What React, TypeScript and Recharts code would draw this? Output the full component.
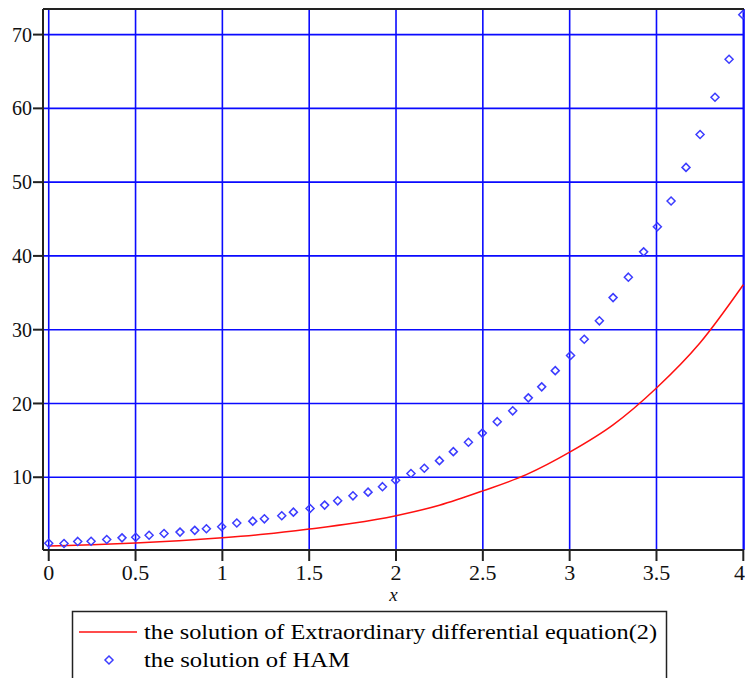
import React from "react";
import {
  ComposedChart,
  Line,
  Scatter,
  XAxis,
  YAxis,
  CartesianGrid,
  ReferenceLine,
} from "recharts";

// exact ODE solution, sampled along the curve
const exactX = [0, 0.25, 0.5, 0.75, 1, 1.25, 1.5, 1.75, 2, 2.25, 2.5, 2.75, 3, 3.25, 3.5, 3.75, 4];
const exactY = [0.68, 0.86, 1.1, 1.4, 1.8, 2.3, 2.98, 3.75, 4.79, 6.2, 8.15, 10.35, 13.4, 17.1, 22.1, 28.2, 36.1];

// HAM approximation points
const hamX = [
  0, 0.088, 0.167, 0.244, 0.334, 0.422, 0.501, 0.578, 0.664, 0.756,
  0.841, 0.908, 0.996, 1.083, 1.175, 1.242, 1.342, 1.409, 1.505, 1.589,
  1.664, 1.752, 1.839, 1.922, 1.998, 2.086, 2.163, 2.25, 2.33, 2.417,
  2.497, 2.583, 2.672, 2.762, 2.839, 2.917, 3.005, 3.084, 3.171, 3.25,
  3.338, 3.426, 3.505, 3.584, 3.67, 3.751, 3.837, 3.918, 3.997,
];
const hamY = [
  1.05, 1.02, 1.3, 1.33, 1.56, 1.78, 1.86, 2.14, 2.38, 2.56,
  2.8, 3.02, 3.29, 3.8, 4.05, 4.36, 4.77, 5.27, 5.77, 6.22,
  6.8, 7.48, 7.98, 8.72, 9.6, 10.5, 11.22, 12.25, 13.47, 14.75,
  15.98, 17.53, 19.0, 20.76, 22.25, 24.45, 26.5, 28.7, 31.2, 34.35,
  37.12, 40.55, 43.95, 47.45, 52.0, 56.45, 61.5, 66.65, 72.7,
];

const xTicks = [0, 0.5, 1, 1.5, 2, 2.5, 3, 3.5, 4];
const yTicks = [10, 20, 30, 40, 50, 60, 70];

const legendLabels = [
  "the solution of Extraordinary differential equation(2)",
  "the solution of HAM",
];

const X_DOMAIN: [number, number] = [-0.033, 4.004];
const Y_DOMAIN: [number, number] = [0.136, 73.47];

const SERIF =
  "'Liberation Serif', 'Times New Roman', Times, 'Nimbus Roman', 'Noto Serif', 'DejaVu Serif', FreeSerif, serif";
const GRID_BLUE = "#0a0aff";
const RED = "#ff1010";
const HAM_BLUE = "#3c3cff";

const exactData = exactX.map((x, i) => ({ x, y: exactY[i] }));
const hamData = hamX.map((x, i) => ({ x, y: hamY[i] }));

function Diamond(props: any) {
  const { cx, cy } = props;
  if (cx == null || cy == null) return null;
  const r = 4;
  return (
    <path
      d={`M${cx},${cy - r} L${cx + r},${cy} L${cx},${cy + r} L${cx - r},${cy} Z`}
      fill="none"
      stroke={HAM_BLUE}
      strokeWidth={1.5}
    />
  );
}

function Legend() {
  return (
    <svg
      width={745}
      height={70}
      style={{ position: "absolute", left: 0, top: 608 }}
    >
      <rect x={72.5} y={3.5} width={594} height={90} fill="#fff" stroke="#222" strokeWidth={1.5} />
      <line x1={79} x2={137} y1={24} y2={24} stroke={RED} strokeWidth={1.5} />
      <path d="M109,48 L113,52 L109,56 L105,52 Z" fill="none" stroke={HAM_BLUE} strokeWidth={1.5} />
      <text
        x={144}
        y={31}
        style={{ fontFamily: SERIF }}
        fontSize={21}
        fill="#000"
        textLength={513}
        lengthAdjust="spacingAndGlyphs"
      >
        {legendLabels[0]}
      </text>
      <text
        x={144}
        y={59}
        style={{ fontFamily: SERIF }}
        fontSize={21}
        fill="#000"
        textLength={206}
        lengthAdjust="spacingAndGlyphs"
      >
        {legendLabels[1]}
      </text>
    </svg>
  );
}

export default function App() {
  return (
    <div style={{ position: "relative", width: 745, height: 678, background: "#fff", fontFamily: SERIF }}>
      <style>{"body{margin:0}"}</style>
      <ComposedChart
        width={745}
        height={678}
        margin={{ top: 9, right: 1, left: 0, bottom: 0 }}
        style={{ fontFamily: SERIF }}
      >
        <CartesianGrid stroke={GRID_BLUE} strokeWidth={1.6} />
        <XAxis
          type="number"
          dataKey="x"
          domain={X_DOMAIN}
          ticks={xTicks}
          allowDataOverflow
          height={128}
          tickSize={11}
          tickMargin={3}
          stroke="#222"
          strokeWidth={2}
          tick={{ fill: "#111", fontFamily: SERIF, fontSize: 22 }}
          label={{
            value: "x",
            position: "insideTop",
            offset: 38,
            fill: "#111",
            fontFamily: SERIF,
            fontStyle: "italic",
            fontSize: 19,
          }}
        />
        <YAxis
          type="number"
          dataKey="y"
          domain={Y_DOMAIN}
          ticks={yTicks}
          allowDataOverflow
          width={43}
          tickSize={10}
          tickMargin={1}
          stroke="#222"
          strokeWidth={2}
          tick={{ fill: "#111", fontFamily: SERIF, fontSize: 20 }}
        />
        <ReferenceLine y={Y_DOMAIN[1]} stroke="#222" strokeWidth={2} />
        <Line
          data={exactData}
          dataKey="y"
          type="monotone"
          stroke={RED}
          strokeWidth={1.5}
          dot={false}
          isAnimationActive={false}
        />
        <Scatter data={hamData} shape={Diamond} isAnimationActive={false} />
      </ComposedChart>
      <Legend />
    </div>
  );
}
